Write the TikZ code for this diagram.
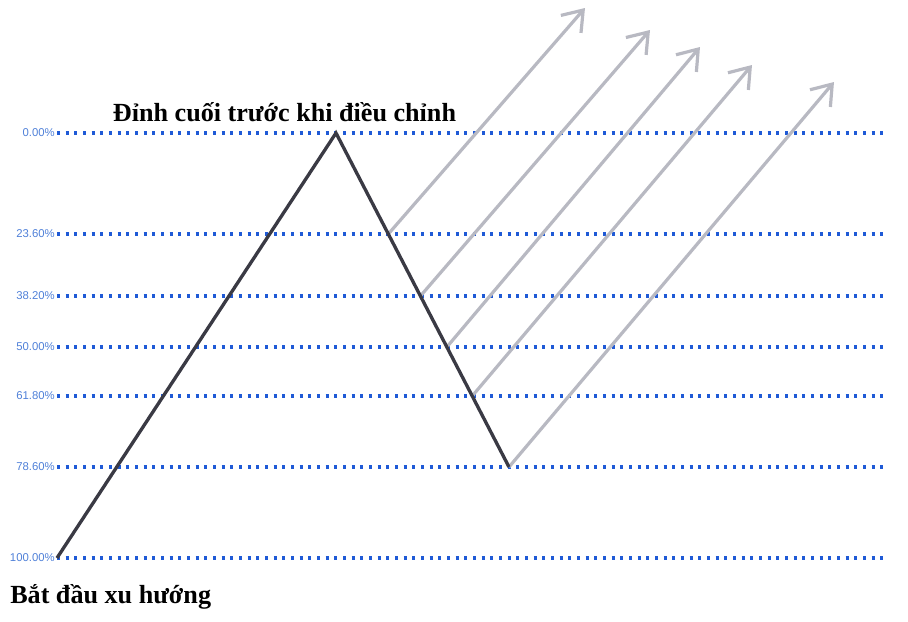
\documentclass[tikz,border=0pt]{standalone}
\usepackage{fontspec}
\setmainfont{Liberation Serif}
\newfontfamily\lvlfont{Liberation Sans}
\usetikzlibrary{arrows.meta}
\definecolor{lvlblue}{HTML}{1F5AD6}
\definecolor{lbltext}{HTML}{4F80D8}
\definecolor{zigzag}{HTML}{3A3A44}
\definecolor{retrace}{HTML}{B8B9C2}

\begin{document}
\begin{tikzpicture}[x=0.75pt,y=-0.75pt,
  lvl/.style={draw=lvlblue,line width=2.3pt,dash pattern=on 2.2pt off 4.3pt},
  lvllabel/.style={anchor=east,inner sep=0pt,text=lbltext,font=\lvlfont\fontsize{8.5}{10}\selectfont},
  wave/.style={draw=zigzag,line width=2.5pt,line join=miter},
  push/.style={draw=retrace,line width=2.4pt,-{Straight Barb[length=14pt,width=20pt,line width=2.4pt]}},
  caption/.style={inner sep=0pt,font=\fontsize{19.6}{22}\selectfont\bfseries}]
\useasboundingbox (0,0) rectangle (908,622);
\def\xl{57};   % left end of the levels
\def\xr{885};  % right end of the levels
% swing points
\coordinate (start) at (57,558);
\coordinate (peak) at (336,133);
\coordinate (low) at (509,467);
% fibonacci levels
\foreach \p/\y [count=\i] in {0.00/133,23.60/234,38.20/296,50.00/347,61.80/396,78.60/467,100.00/558} {
  \coordinate (a\i) at (\xl,\y);
  \coordinate (b\i) at (\xr,\y);
  \node[lvllabel] (l\i) at (55,\y) {\p\%};
  \draw[lvl] (a\i) -- (b\i);
}
% pullback points on the peak-low leg and where the arrows go
\foreach \y/\tx/\ty [count=\i] in {234/585/8,296/650/30,347/700/47,396/752/65} {
  \pgfmathparse{336+(\y-133)*0.518};
  \let\rx\pgfmathresult;
  \coordinate (r\i) at (\rx,\y);
  \coordinate (t\i) at (\tx,\ty);
  \draw[push] (r\i) -- (t\i);
}
\coordinate (t5) at (834,82);
\draw[push] (low) -- (t5);
\draw[wave] (start) -- (peak) -- (low);
\node[caption] (top) at (284.5,112) {Đỉnh cuối trước khi điều chỉnh};
\node[caption,anchor=west] (begin) at (10,597) {Bắt đầu xu hướng};
\end{tikzpicture}
\end{document}
